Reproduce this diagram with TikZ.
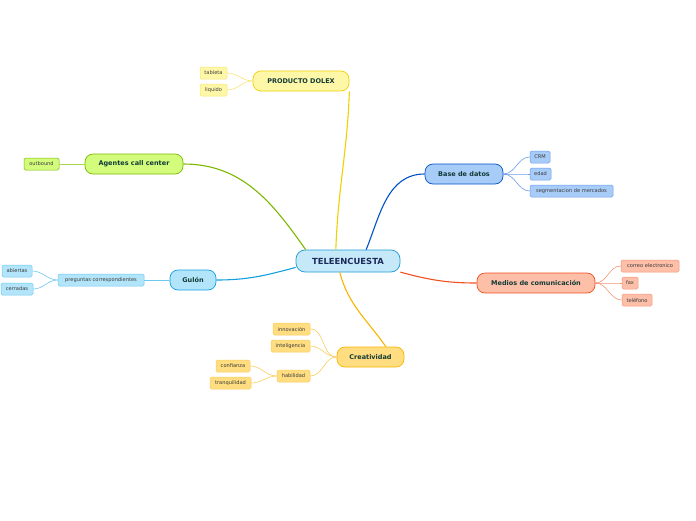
\documentclass[tikz,border=0pt]{standalone}
\usepackage{fontspec}
\setmainfont{DejaVu Sans}
\usepackage{xcolor}
\definecolor{ink}{HTML}{1B2A5A}
\definecolor{inkmain}{HTML}{123A36}
\definecolor{inkleaf}{HTML}{3A3A3A}
\definecolor{rootfill}{HTML}{C6E9FA}
\definecolor{rootline}{HTML}{1E9BD7}
\definecolor{dolexfill}{HTML}{FFF7A8}
\definecolor{dolexline}{HTML}{F0D000}
\definecolor{dolexsoft}{HTML}{F6E470}
\definecolor{callfill}{HTML}{D4FC7C}
\definecolor{callline}{HTML}{7CB800}
\definecolor{callsoft}{HTML}{A8D850}
\definecolor{guionfill}{HTML}{B3E5FA}
\definecolor{guionline}{HTML}{12A0E0}
\definecolor{guionsoft}{HTML}{6CC8F0}
\definecolor{datafill}{HTML}{A8CCF8}
\definecolor{dataline}{HTML}{0052C8}
\definecolor{datasoft}{HTML}{6C9CEA}
\definecolor{mediafill}{HTML}{FDBFA8}
\definecolor{medialine}{HTML}{F05020}
\definecolor{mediasoft}{HTML}{F49478}
\definecolor{creafill}{HTML}{FFDD80}
\definecolor{crealine}{HTML}{F8B400}
\definecolor{creasoft}{HTML}{F8CC60}
\usepackage{tikz}
\usetikzlibrary{positioning, calc}
\tikzset{
    rootnode/.style = {draw=rootline, fill=rootfill, rounded corners=9pt,
                       line width=0.7pt, minimum width=104pt, minimum height=22pt,
                       inner sep=0pt, text=ink, font=\fontsize{8.4}{9}\selectfont\bfseries},
    topic/.style = {rounded corners=8pt, line width=0.7pt, minimum height=20pt,
                    inner sep=0pt, text=inkmain, font=\fontsize{6.5}{7}\selectfont\bfseries},
    leaf/.style = {rounded corners=1.5pt, line width=0.5pt, minimum height=12pt,
                   inner sep=0pt, text=inkleaf, font=\fontsize{5.1}{6}\selectfont},
    branch/.style = {line width=1.1pt},
    twig/.style = {line width=0.6pt},
}
\begin{document}
\begin{tikzpicture}[x=1pt, y=-1pt]
    \useasboundingbox (0,0) rectangle (696,520);
    % central topic
    \node[rootnode] (root) at (348,261) {TELEENCUESTA};
    % main topics
    \node[topic, draw=dolexline, fill=dolexfill, minimum width=96pt] (dolex) at (301,81) {PRODUCTO DOLEX};
    \node[topic, draw=callline, fill=callfill, minimum width=98pt] (call) at (134,164) {Agentes call center};
    \node[topic, draw=guionline, fill=guionfill, minimum width=46pt] (guion) at (193,280) {Gulón};
    \node[topic, draw=dataline, fill=datafill, minimum width=78pt] (base) at (464,174) {Base de datos};
    \node[topic, draw=medialine, fill=mediafill, minimum width=118pt] (media) at (536,283) {Medios de comunicación};
    \node[topic, draw=crealine, fill=creafill, minimum width=67pt] (crea) at (370.5,357) {Creatividad};
    % subtopics
    \node[leaf, draw=dolexsoft, fill=dolexfill, minimum width=27pt] (tableta) at (213.5,73) {tableta};
    \node[leaf, draw=dolexsoft, fill=dolexfill, minimum width=27pt] (liquido) at (213.5,90) {liquido};
    \node[leaf, draw=callline, fill=callfill, minimum width=35pt] (outbound) at (41.5,164) {outbound};
    \node[leaf, draw=guionsoft, fill=guionfill, minimum width=86pt] (preguntas) at (101,280) {preguntas correspondientes};
    \node[leaf, draw=guionsoft, fill=guionfill, minimum width=30pt] (abiertas) at (17,271) {abiertas};
    \node[leaf, draw=guionsoft, fill=guionfill, minimum width=32pt] (cerradas) at (17,289) {cerradas};
    \node[leaf, draw=datasoft, fill=datafill, minimum width=20pt] (crm) at (540,157) {CRM};
    \node[leaf, draw=datasoft, fill=datafill, minimum width=21pt] (edad) at (540.5,174) {edad};
    \node[leaf, draw=datasoft, fill=datafill, minimum width=83pt] (segm) at (571.5,191) {segmentacion de mercados};
    \node[leaf, draw=mediasoft, fill=mediafill, minimum width=58pt] (correo) at (650,266) {correo electronico};
    \node[leaf, draw=mediasoft, fill=mediafill, minimum width=16pt] (fax) at (630,283) {fax};
    \node[leaf, draw=mediasoft, fill=mediafill, minimum width=30pt] (tel) at (637,300) {teléfono};
    \node[leaf, draw=creasoft, fill=creafill, minimum width=37pt] (innov) at (291.5,329) {innovación};
    \node[leaf, draw=creasoft, fill=creafill, minimum width=39pt] (intel) at (290.5,346) {inteligencia};
    \node[leaf, draw=creasoft, fill=creafill, minimum width=33pt] (habil) at (293.5,376) {habilidad};
    \node[leaf, draw=creasoft, fill=creafill, minimum width=34pt] (conf) at (233,366) {confianza};
    \node[leaf, draw=creasoft, fill=creafill, minimum width=41pt] (tranq) at (230.5,383) {tranquilidad};
    % branches from the centre
    \draw[branch, dolexline] (root.137) to[out=88, in=-92] (dolex.-12);
    \draw[branch, callline] (root.165) to[out=125, in=0] (call.east);
    \draw[branch, guionline] (root.187) to[out=195, in=0] (guion.east);
    \draw[branch, dataline] (root.32) to[out=68, in=180] (base.west);
    \draw[branch, medialine] (root.-12) to[out=-15, in=180] (media.west);
    \draw[branch, crealine] (root.-126) to[out=-75, in=125] (crea.34);
    % twigs
    \foreach \leafname in {tableta, liquido}
        \draw[twig, dolexsoft] (dolex.west) to[out=180, in=0] (\leafname.east);
    \draw[twig, callsoft] (call.west) -- (outbound.east);
    \draw[twig, guionsoft] (guion.west) -- (preguntas.east);
    \foreach \leafname in {abiertas, cerradas}
        \draw[twig, guionsoft] (preguntas.west) to[out=180, in=0] (\leafname.east);
    \foreach \leafname in {crm, edad, segm}
        \draw[twig, datasoft] (base.east) to[out=0, in=180] (\leafname.west);
    \foreach \leafname in {correo, fax, tel}
        \draw[twig, mediasoft] (media.east) to[out=0, in=180] (\leafname.west);
    \foreach \leafname in {innov, intel, habil}
        \draw[twig, creasoft] (crea.west) to[out=180, in=0] (\leafname.east);
    \foreach \leafname in {conf, tranq}
        \draw[twig, creasoft] (habil.west) to[out=180, in=0] (\leafname.east);
\end{tikzpicture}
\end{document}
